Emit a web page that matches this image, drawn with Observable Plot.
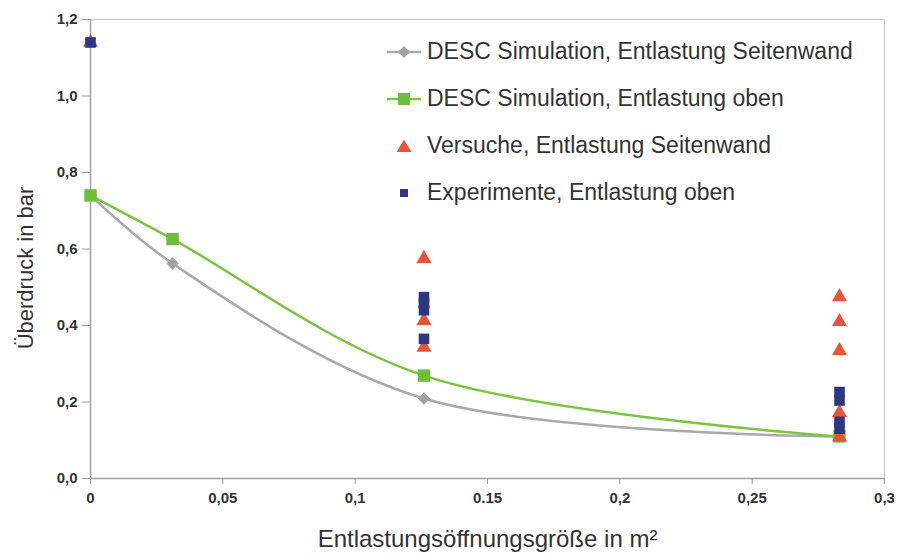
<!DOCTYPE html>
<html>
<head>
<meta charset="utf-8">
<script src="https://cdn.jsdelivr.net/npm/d3@7"></script>
<script src="https://cdn.jsdelivr.net/npm/@observablehq/plot@0.6"></script>
<style>
  html, body { margin: 0; padding: 0; background: #fff; }
  #wrap { position: relative; width: 911px; height: 560px; font-family: "Liberation Sans", Arial, sans-serif; }
  #legend { position: absolute; left: 385px; top: 28px; color: #333; font-size: 23px; }
  .row { display: flex; align-items: center; height: 47px; }
  .row svg { width: 40px; height: 24px; margin-right: 2px; }
  #wrap svg g[aria-label$="tick label"], #wrap svg g[aria-label$="tick label"] text {
    font-size: 15px !important; font-weight: bold !important; fill: #333;
  }
</style>
</head>
<body>
<div id="wrap"></div>
<script>
// ---- data ----
const simX = [0, 0.031, 0.126, 0.283];
const simSeitenwand = [0.74, 0.562, 0.209, 0.11];
const simOben = [0.74, 0.626, 0.269, 0.11];

const versucheX = [0, 0.126, 0.126, 0.126, 0.283, 0.283, 0.283, 0.283, 0.283];
const versucheY = [1.14, 0.575, 0.413, 0.343, 0.475, 0.41, 0.334, 0.172, 0.108];

const experimenteX = [0, 0.126, 0.126, 0.126, 0.126, 0.283, 0.283, 0.283, 0.283];
const experimenteY = [1.14, 0.474, 0.458, 0.44, 0.365, 0.226, 0.204, 0.148, 0.13];

const seriesNames = [
  "DESC Simulation, Entlastung Seitenwand",
  "DESC Simulation, Entlastung oben",
  "Versuche, Entlastung Seitenwand",
  "Experimente, Entlastung oben"
];
const xTicks = [0, 0.05, 0.1, 0.15, 0.2, 0.25, 0.3];
const xTickLabels = ["0", "0,05", "0,1", "0.15", "0,2", "0,25", "0,3"];
const yTicks = [0, 0.2, 0.4, 0.6, 0.8, 1.0, 1.2];
const yTickLabels = ["0,0", "0,2", "0,4", "0,6", "0,8", "1,0", "1,2"];
const xTitle = "Entlastungsöffnungsgröße in m²";
const yTitle = "Überdruck in bar";

// ---- colors ----
const cGray = "#a9a9a9", cGrayMark = "#a3a3a3";
const cGreen = "#7cc243", cGreenMark = "#6fbd38";
const cRed = "#e8533b", cBlue = "#2d3782";

const gray = simX.map((x, i) => ({x, y: simSeitenwand[i]}));
const green = simX.map((x, i) => ({x, y: simOben[i]}));
const red = versucheX.map((x, i) => ({x, y: versucheY[i]}));
const blue = experimenteX.map((x, i) => ({x, y: experimenteY[i]}));

const diamond = {
  draw(ctx, size) {
    const h = Math.sqrt(size / 2);
    ctx.moveTo(0, -h); ctx.lineTo(h, 0); ctx.lineTo(0, h); ctx.lineTo(-h, 0); ctx.closePath();
  }
};

const chart = Plot.plot({
  width: 911,
  height: 560,
  marginTop: 19,
  marginRight: 27,
  marginBottom: 82,
  marginLeft: 90,
  style: { fontFamily: "Liberation Sans, Arial, sans-serif", background: "#fff", overflow: "visible" },
  x: { domain: [0, 0.3] },
  y: { domain: [0, 1.2] },
  marks: [
    Plot.frame({ stroke: "#c4c4c4" }),
    Plot.axisX({ ticks: xTicks, tickFormat: (d, i) => xTickLabels[i], tickSize: 6, tickPadding: 8,
      stroke: "#9a9a9a", fill: "#333", label: null }),
    Plot.axisY({ ticks: yTicks, tickFormat: (d, i) => yTickLabels[i], tickSize: 8, tickPadding: 5,
      stroke: "#9a9a9a", fill: "#333", label: null }),
    Plot.ruleX([0], { stroke: "#a0a0a0", strokeWidth: 1.5 }),
    Plot.ruleY([0], { stroke: "#a0a0a0", strokeWidth: 1.5 }),
    Plot.line(gray, { x: "x", y: "y", stroke: cGray, strokeWidth: 2.5, curve: "catmull-rom" }),
    Plot.dot(gray, { x: "x", y: "y", symbol: diamond, r: 5, fill: cGrayMark }),
    Plot.line(green, { x: "x", y: "y", stroke: cGreen, strokeWidth: 2.5, curve: "catmull-rom" }),
    Plot.dot(green, { x: "x", y: "y", symbol: "square", r: 7, fill: cGreenMark }),
    Plot.dot(red, { x: "x", y: "y", symbol: "triangle", r: 5.6, fill: cRed }),
    Plot.dot(blue, { x: "x", y: "y", symbol: "square", r: 6, fill: cBlue }),
    Plot.text([xTitle], { frameAnchor: "bottom", textAnchor: "middle", dy: 68, fontSize: 24,
      fill: "#333", letterSpacing: "1.2px" }),
    Plot.text([yTitle], { frameAnchor: "left", textAnchor: "middle", rotate: -90, dx: -65, dy: 19, fontSize: 22,
      fill: "#333" })
  ]
});

const wrap = document.getElementById("wrap");
wrap.appendChild(chart);

// legend
const sym = [
  `<line x1="2" y1="12" x2="36" y2="12" stroke="${cGray}" stroke-width="2.5"/><path d="M19,6 L25,12 L19,18 L13,12Z" fill="${cGrayMark}"/>`,
  `<line x1="2" y1="12" x2="36" y2="12" stroke="${cGreen}" stroke-width="2.5"/><rect x="13" y="6" width="12" height="12" fill="${cGreenMark}"/>`,
  `<path d="M19,5.5 L26.5,18 L11.5,18Z" fill="${cRed}"/>`,
  `<rect x="15" y="8" width="8" height="8" fill="${cBlue}"/>`
];
const legend = document.createElement("div");
legend.id = "legend";
legend.innerHTML = seriesNames.map((n, i) =>
  `<div class="row"><svg viewBox="0 0 40 24">${sym[i]}</svg><span>${n}</span></div>`).join("");
wrap.appendChild(legend);
</script>
</body>
</html>
